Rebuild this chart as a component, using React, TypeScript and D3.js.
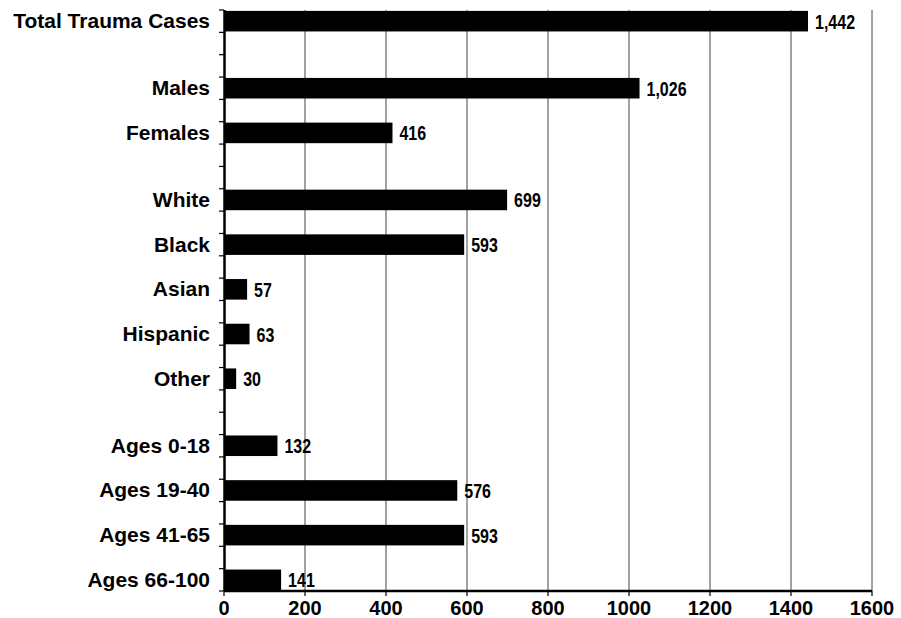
import React from "react";
import * as d3 from "d3";

// Trauma case counts by category
const categories = [
  "Total Trauma Cases",
  "Males",
  "Females",
  "White",
  "Black",
  "Asian",
  "Hispanic",
  "Other",
  "Ages 0-18",
  "Ages 19-40",
  "Ages 41-65",
  "Ages 66-100",
];
const cases = [1442, 1026, 416, 699, 593, 57, 63, 30, 132, 576, 593, 141];
// Number of categories in each visual group (total, sex, race, age)
const groupSizes = [1, 2, 5, 4];
const xTicks = [0, 200, 400, 600, 800, 1000, 1200, 1400, 1600];

const W = 901;
const H = 618;
const margin = { top: 10, right: 29, bottom: 27, left: 224 };

// Each category takes one half-slot; categories in a group are two half-slots
// apart and groups are separated by an extra half-slot.
function slotIndices(sizes: number[]): number[] {
  const out: number[] = [];
  let slot = 0;
  sizes.forEach((n) => {
    for (let i = 0; i < n; i++) {
      out.push(slot);
      slot += 2;
    }
    slot += 1;
  });
  return out;
}

export default function App() {
  const slots = slotIndices(groupSizes);
  const nSlots = slots[slots.length - 1] + 1;
  const innerW = W - margin.left - margin.right;
  const innerH = H - margin.top - margin.bottom;

  const x = d3.scaleLinear().domain([0, 1600]).range([0, innerW]);
  const y = d3
    .scaleBand<number>()
    .domain(d3.range(nSlots))
    .range([0, innerH])
    .paddingInner(0.08)
    .paddingOuter(0.04);
  const step = innerH / nSlots;
  const boundaries = d3.range(nSlots + 1).map((k) => k * step);

  const labelFont = "'Liberation Sans', Arial, Helvetica, sans-serif";
  const fmt = d3.format(",");

  return (
    <svg
      width={W}
      height={H}
      style={{ position: "absolute", left: 0, top: 0, background: "#fff" }}
    >
      <g transform={`translate(${margin.left},${margin.top})`}>
        {/* vertical gridlines and right frame */}
        {xTicks.slice(1).map((t) => (
          <line
            key={`g${t}`}
            x1={x(t)}
            x2={x(t)}
            y1={0}
            y2={innerH}
            stroke="#444"
            strokeWidth={1}
          />
        ))}

        {/* bars */}
        {cases.map((v, i) => (
          <rect
            key={`b${i}`}
            x={0}
            y={y(slots[i])}
            width={x(v)}
            height={y.bandwidth()}
            fill="#000"
          />
        ))}

        {/* value labels, condensed */}
        {cases.map((v, i) => {
          const cy = (y(slots[i]) as number) + y.bandwidth() / 2;
          return (
            <text
              key={`v${i}`}
              transform={`translate(${x(v) + 7},${cy + 7.5}) scale(0.82,1)`}
              fontFamily={labelFont}
              fontWeight="bold"
              fontSize={19.5}
              fill="#000"
            >
              {fmt(v)}
            </text>
          );
        })}

        {/* category axis */}
        {boundaries.map((b, k) => (
          <line
            key={`yt${k}`}
            x1={-5}
            x2={0}
            y1={b}
            y2={b}
            stroke="#000"
            strokeWidth={1.2}
          />
        ))}
        <line x1={0.5} x2={0.5} y1={0} y2={innerH} stroke="#000" strokeWidth={2.5} />
        {categories.map((c, i) => {
          const cy = (y(slots[i]) as number) + y.bandwidth() / 2;
          return (
            <text
              key={`c${i}`}
              transform={`translate(${-14},${cy + 7}) scale(1.05,1)`}
              textAnchor="end"
              fontFamily={labelFont}
              fontWeight="bold"
              fontSize={20}
              fill="#000"
            >
              {c}
            </text>
          );
        })}

        {/* value axis */}
        <line x1={0} x2={innerW} y1={innerH} y2={innerH} stroke="#000" strokeWidth={2.5} />
        {xTicks.map((t) => (
          <g key={`xt${t}`} transform={`translate(${x(t)},${innerH})`}>
            <line y1={0} y2={5} stroke="#000" strokeWidth={1.2} />
            <text
              y={24}
              textAnchor="middle"
              fontFamily={labelFont}
              fontWeight="bold"
              fontSize={20}
              fill="#000"
            >
              {t}
            </text>
          </g>
        ))}
      </g>
    </svg>
  );
}
